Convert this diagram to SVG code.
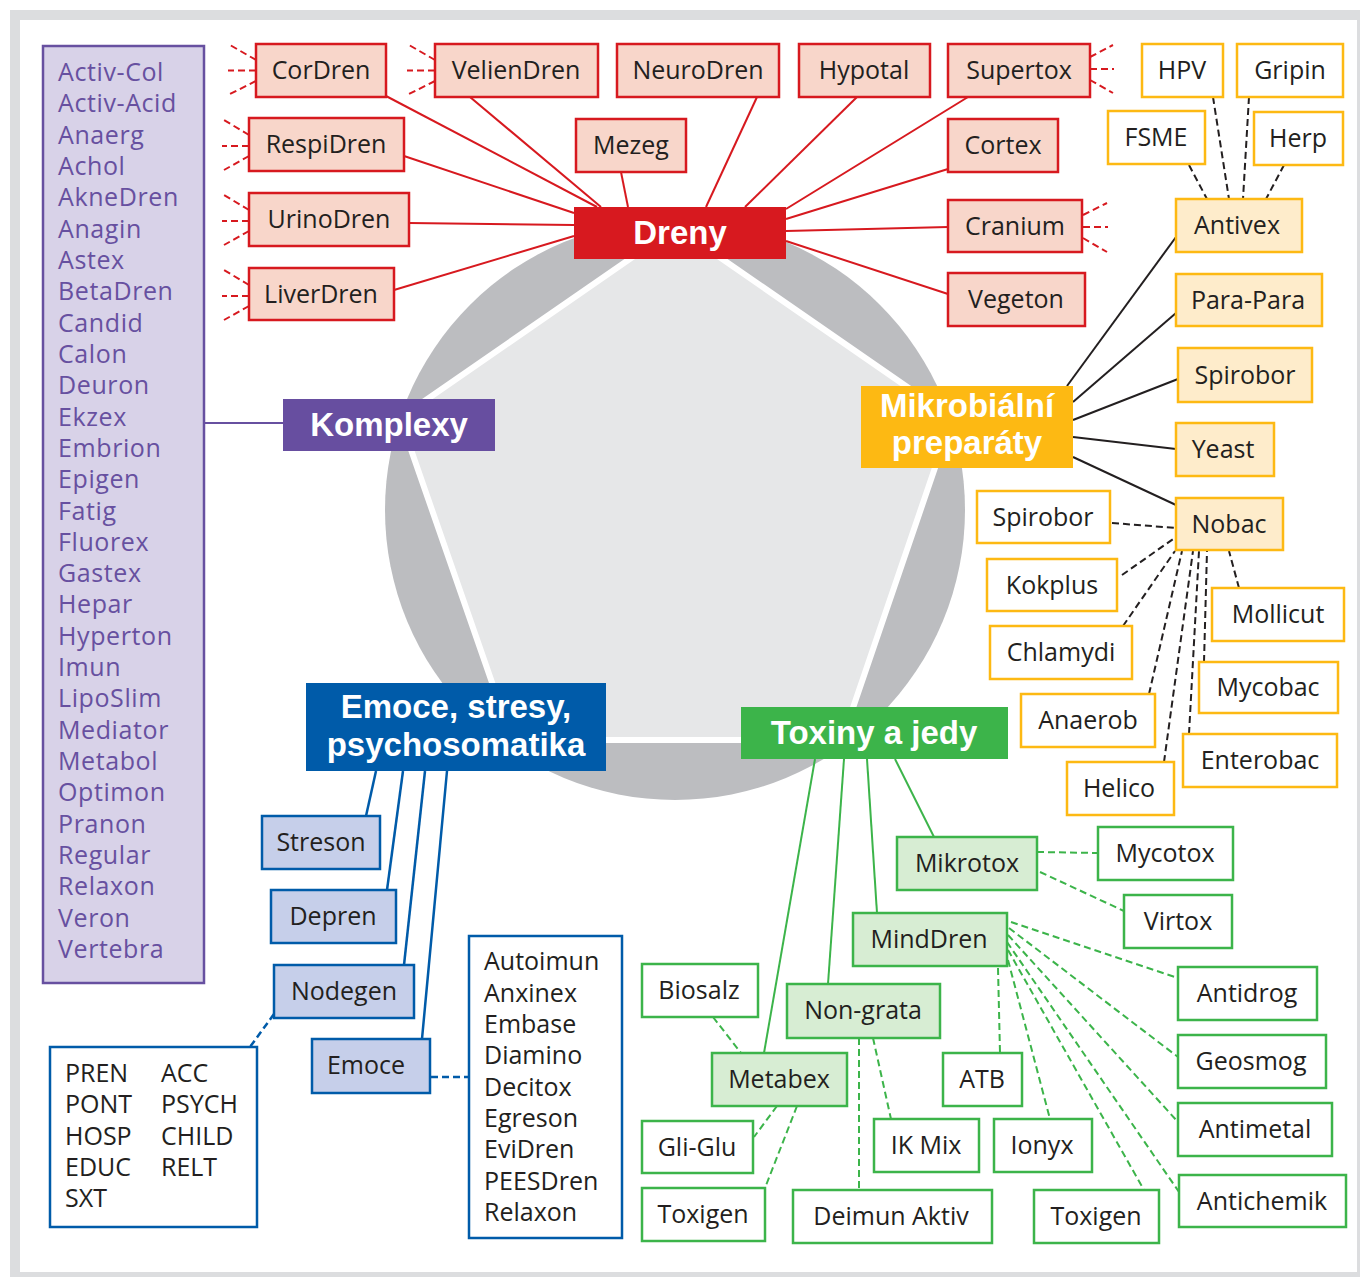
<svg xmlns="http://www.w3.org/2000/svg" width="1360" height="1277" viewBox="0 0 1360 1277">
<style>
text{font-family:"Open Sans","Noto Sans","Liberation Sans",sans-serif;}
.t{font-size:25px;fill:#231f20;text-anchor:middle;}
.lt{font-size:25px;fill:#231f20;}
.pt{font-size:25px;fill:#6750a0;letter-spacing:0.6px;}
.cat{font-family:"Liberation Sans",Arial,sans-serif;font-size:33px;font-weight:bold;fill:#fff;text-anchor:middle;}
.rn{fill:#f8d6ca;stroke:#d7191f;stroke-width:2.5;}
.yw{fill:#fff;stroke:#fdb913;stroke-width:2.5;}
.yp{fill:#feeccb;stroke:#fdb913;stroke-width:2.5;}
.gw{fill:#fff;stroke:#3cb44a;stroke-width:2.5;}
.gp{fill:#d7edd3;stroke:#3cb44a;stroke-width:2.5;}
.bp{fill:#c6cfea;stroke:#005ba9;stroke-width:2.5;}
.bw{fill:#fff;stroke:#005ba9;stroke-width:2.5;}
.rl{stroke:#d7191f;stroke-width:2;fill:none;}
.rd{stroke:#d7191f;stroke-width:2;fill:none;stroke-dasharray:7 4;}
.kl{stroke:#231f20;stroke-width:2;fill:none;}
.kd{stroke:#231f20;stroke-width:2;fill:none;stroke-dasharray:7 4;}
.gl{stroke:#3cb44a;stroke-width:2;fill:none;}
.gd{stroke:#3cb44a;stroke-width:2;fill:none;stroke-dasharray:7 4;}
.bl{stroke:#005ba9;stroke-width:2.5;fill:none;}
.bd{stroke:#005ba9;stroke-width:2.5;fill:none;stroke-dasharray:7 4;}
.pl{stroke:#6750a0;stroke-width:2;fill:none;}
</style>
<g id="frame">
<rect x="10" y="10" width="1350" height="1267" fill="#dcdddf"/>
<rect x="20" y="20" width="1337" height="1252" fill="#fff"/>
</g>
<g id="background">
<circle cx="675" cy="510" r="290" fill="#bcbdc0"/>
<polygon points="676,227 952,418 842,740 512,740 400,418" fill="#e6e7e8" stroke="#fff" stroke-width="6" stroke-linejoin="miter"/>
</g>
<g id="connectors">
<line class="rl" x1="386" y1="96" x2="597" y2="207"/>
<line class="rl" x1="470" y1="97" x2="601" y2="207"/>
<line class="rl" x1="404" y1="156" x2="574" y2="213"/>
<line class="rl" x1="409" y1="223" x2="574" y2="225"/>
<line class="rl" x1="394" y1="290" x2="574" y2="236"/>
<line class="rl" x1="621" y1="172" x2="628" y2="207"/>
<line class="rl" x1="757" y1="97" x2="706" y2="207"/>
<line class="rl" x1="857" y1="97" x2="745" y2="207"/>
<line class="rl" x1="968" y1="97" x2="786" y2="209"/>
<line class="rl" x1="948" y1="169" x2="786" y2="219"/>
<line class="rl" x1="948" y1="227" x2="786" y2="231"/>
<line class="rl" x1="948" y1="294" x2="786" y2="241"/>
<path class="rd" d="M256,60 L230,45 M256,70.5 L228,70.5 M256,81 L230,94"/>
<path class="rd" d="M435,60 L409,45 M435,70.5 L407,70.5 M435,81 L409,94"/>
<path class="rd" d="M249,135 L224,120 M249,146 L222,146 M249,156 L224,170"/>
<path class="rd" d="M249,210 L224,195 M249,221 L222,221 M249,231 L224,245"/>
<path class="rd" d="M249,285 L224,270 M249,296 L222,296 M249,306 L224,320"/>
<path class="rd" d="M1090,57 L1113,45 M1090,69 L1114,69 M1090,80 L1113,93"/>
<path class="rd" d="M1083,215 L1107,203 M1083,227 L1108,227 M1083,238 L1107,252"/>
<line class="pl" x1="204" y1="423" x2="283" y2="423"/>
<line class="kl" x1="1067" y1="386" x2="1176" y2="237"/>
<line class="kl" x1="1073" y1="402" x2="1176" y2="313"/>
<line class="kl" x1="1073" y1="420" x2="1178" y2="379"/>
<line class="kl" x1="1073" y1="437" x2="1176" y2="449"/>
<line class="kl" x1="1073" y1="457" x2="1176" y2="505"/>
<line class="kd" x1="1189" y1="165" x2="1207" y2="199"/>
<line class="kd" x1="1213" y1="97" x2="1229" y2="199"/>
<line class="kd" x1="1249" y1="97" x2="1243" y2="199"/>
<line class="kd" x1="1284" y1="165" x2="1266" y2="199"/>
<line class="kd" x1="1112" y1="523" x2="1176" y2="528"/>
<line class="kd" x1="1122" y1="575" x2="1176" y2="537"/>
<line class="kd" x1="1123" y1="626" x2="1175" y2="551"/>
<line class="kd" x1="1149" y1="694" x2="1182" y2="551"/>
<line class="kd" x1="1164" y1="762" x2="1193" y2="551"/>
<line class="kd" x1="1189" y1="734" x2="1199" y2="551"/>
<line class="kd" x1="1204" y1="662" x2="1207" y2="551"/>
<line class="kd" x1="1239" y1="588" x2="1229" y2="551"/>
<line class="bl" x1="376" y1="771" x2="366" y2="816"/>
<line class="bl" x1="403" y1="771" x2="387" y2="890"/>
<line class="bl" x1="425" y1="771" x2="404" y2="965"/>
<line class="bl" x1="447" y1="771" x2="422" y2="1039"/>
<line class="bd" x1="274" y1="1014" x2="250" y2="1047"/>
<line class="bd" x1="431" y1="1077" x2="469" y2="1077"/>
<line class="gl" x1="815" y1="759" x2="764" y2="1053"/>
<line class="gl" x1="844" y1="759" x2="828" y2="984"/>
<line class="gl" x1="867" y1="759" x2="877" y2="913"/>
<line class="gl" x1="895" y1="759" x2="934" y2="837"/>
<line class="gd" x1="1037" y1="852" x2="1098" y2="853"/>
<line class="gd" x1="1040" y1="872" x2="1124" y2="911"/>
<line class="gd" x1="1011" y1="922" x2="1178" y2="978"/>
<line class="gd" x1="1009" y1="928" x2="1178" y2="1057"/>
<line class="gd" x1="1008" y1="935" x2="1178" y2="1122"/>
<line class="gd" x1="1007" y1="942" x2="1179" y2="1192"/>
<line class="gd" x1="1008" y1="950" x2="1144" y2="1190"/>
<line class="gd" x1="1008" y1="960" x2="1050" y2="1119"/>
<line class="gd" x1="998" y1="968" x2="1000" y2="1053"/>
<line class="gd" x1="713" y1="1017" x2="741" y2="1053"/>
<line class="gd" x1="859" y1="1038" x2="859" y2="1190"/>
<line class="gd" x1="873" y1="1038" x2="891" y2="1119"/>
<line class="gd" x1="777" y1="1106" x2="754" y2="1137"/>
<line class="gd" x1="797" y1="1106" x2="765" y2="1188"/>
</g>
<g id="n-dreny"><rect x="574" y="207" width="212" height="52" fill="#d7191f"/><text class="cat" x="680" y="244">Dreny</text></g>
<g id="n-komplexy"><rect x="283" y="399" width="212" height="52" fill="#674ea0"/><text class="cat" x="389" y="436">Komplexy</text></g>
<g id="n-mikrobialni"><rect x="861" y="386" width="212" height="82" fill="#fdb913"/><text class="cat" x="967" y="417">Mikrobiální</text><text class="cat" x="967" y="454">preparáty</text></g>
<g id="n-emoce-cat"><rect x="306" y="683" width="300" height="88" fill="#005ba9"/><text class="cat" x="456" y="718">Emoce, stresy,</text><text class="cat" x="456" y="756">psychosomatika</text></g>
<g id="n-toxiny"><rect x="741" y="707" width="267" height="52" fill="#3cb44a"/><text class="cat" x="874" y="744">Toxiny a jedy</text></g>
<g id="n-cordren"><rect class="rn" x="256" y="44" width="130" height="53"/><text class="t" x="321" y="79">CorDren</text></g>
<g id="n-veliendren"><rect class="rn" x="435" y="44" width="163" height="53"/><text class="t" x="516" y="79">VelienDren</text></g>
<g id="n-neurodren"><rect class="rn" x="617" y="44" width="162" height="53"/><text class="t" x="698" y="79">NeuroDren</text></g>
<g id="n-hypotal"><rect class="rn" x="799" y="44" width="131" height="53"/><text class="t" x="864" y="79">Hypotal</text></g>
<g id="n-supertox"><rect class="rn" x="948" y="44" width="142" height="53"/><text class="t" x="1019" y="79">Supertox</text></g>
<g id="n-mezeg"><rect class="rn" x="576" y="119" width="110" height="53"/><text class="t" x="631" y="154">Mezeg</text></g>
<g id="n-respidren"><rect class="rn" x="249" y="118" width="155" height="53"/><text class="t" x="326" y="153">RespiDren</text></g>
<g id="n-urinodren"><rect class="rn" x="249" y="193" width="160" height="53"/><text class="t" x="329" y="228">UrinoDren</text></g>
<g id="n-liverdren"><rect class="rn" x="249" y="268" width="145" height="52"/><text class="t" x="321" y="303">LiverDren</text></g>
<g id="n-cortex"><rect class="rn" x="948" y="119" width="110" height="53"/><text class="t" x="1003" y="154">Cortex</text></g>
<g id="n-cranium"><rect class="rn" x="948" y="200" width="134" height="52"/><text class="t" x="1015" y="235">Cranium</text></g>
<g id="n-vegeton"><rect class="rn" x="948" y="273" width="137" height="53"/><text class="t" x="1016" y="308">Vegeton</text></g>
<g id="n-hpv"><rect class="yw" x="1142" y="44" width="81" height="53"/><text class="t" x="1182" y="79">HPV</text></g>
<g id="n-gripin"><rect class="yw" x="1237" y="44" width="106" height="53"/><text class="t" x="1290" y="79">Gripin</text></g>
<g id="n-fsme"><rect class="yw" x="1108" y="111" width="97" height="53"/><text class="t" x="1156" y="146">FSME</text></g>
<g id="n-herp"><rect class="yw" x="1254" y="112" width="89" height="53"/><text class="t" x="1298" y="147">Herp</text></g>
<g id="n-antivex"><rect class="yp" x="1176" y="199" width="126" height="53"/><text class="t" x="1237" y="234">Antivex</text></g>
<g id="n-parapara"><rect class="yp" x="1176" y="274" width="146" height="52"/><text class="t" x="1248" y="309">Para-Para</text></g>
<g id="n-spirobor1"><rect class="yp" x="1178" y="348" width="134" height="54"/><text class="t" x="1245" y="384">Spirobor</text></g>
<g id="n-yeast"><rect class="yp" x="1176" y="423" width="98" height="53"/><text class="t" x="1223" y="458">Yeast</text></g>
<g id="n-nobac"><rect class="yp" x="1176" y="498" width="107" height="52"/><text class="t" x="1229" y="533">Nobac</text></g>
<g id="n-spirobor2"><rect class="yw" x="977" y="491" width="133" height="52"/><text class="t" x="1043" y="526">Spirobor</text></g>
<g id="n-kokplus"><rect class="yw" x="987" y="559" width="130" height="52"/><text class="t" x="1052" y="594">Kokplus</text></g>
<g id="n-chlamydi"><rect class="yw" x="990" y="626" width="142" height="53"/><text class="t" x="1061" y="661">Chlamydi</text></g>
<g id="n-anaerob"><rect class="yw" x="1021" y="694" width="134" height="53"/><text class="t" x="1088" y="729">Anaerob</text></g>
<g id="n-helico"><rect class="yw" x="1067" y="762" width="107" height="53"/><text class="t" x="1119" y="797">Helico</text></g>
<g id="n-mollicut"><rect class="yw" x="1212" y="588" width="132" height="53"/><text class="t" x="1278" y="623">Mollicut</text></g>
<g id="n-mycobac"><rect class="yw" x="1199" y="662" width="139" height="51"/><text class="t" x="1268" y="696">Mycobac</text></g>
<g id="n-enterobac"><rect class="yw" x="1183" y="734" width="154" height="53"/><text class="t" x="1260" y="769">Enterobac</text></g>
<g id="n-komplexy-list"><rect x="43" y="46" width="161" height="937" fill="#d8d2e8" stroke="#6750a0" stroke-width="2.5"/>
<text class="pt" x="58" y="81">Activ-Col</text>
<text class="pt" x="58" y="112.3">Activ-Acid</text>
<text class="pt" x="58" y="143.6">Anaerg</text>
<text class="pt" x="58" y="175">Achol</text>
<text class="pt" x="58" y="206.3">AkneDren</text>
<text class="pt" x="58" y="237.6">Anagin</text>
<text class="pt" x="58" y="268.9">Astex</text>
<text class="pt" x="58" y="300.2">BetaDren</text>
<text class="pt" x="58" y="331.6">Candid</text>
<text class="pt" x="58" y="362.9">Calon</text>
<text class="pt" x="58" y="394.2">Deuron</text>
<text class="pt" x="58" y="425.5">Ekzex</text>
<text class="pt" x="58" y="456.8">Embrion</text>
<text class="pt" x="58" y="488.2">Epigen</text>
<text class="pt" x="58" y="519.5">Fatig</text>
<text class="pt" x="58" y="550.8">Fluorex</text>
<text class="pt" x="58" y="582.1">Gastex</text>
<text class="pt" x="58" y="613.4">Hepar</text>
<text class="pt" x="58" y="644.8">Hyperton</text>
<text class="pt" x="58" y="676.1">Imun</text>
<text class="pt" x="58" y="707.4">LipoSlim</text>
<text class="pt" x="58" y="738.7">Mediator</text>
<text class="pt" x="58" y="770">Metabol</text>
<text class="pt" x="58" y="801.4">Optimon</text>
<text class="pt" x="58" y="832.7">Pranon</text>
<text class="pt" x="58" y="864">Regular</text>
<text class="pt" x="58" y="895.3">Relaxon</text>
<text class="pt" x="58" y="926.6">Veron</text>
<text class="pt" x="58" y="958">Vertebra</text>
</g>
<g id="n-streson"><rect class="bp" x="262" y="816" width="118" height="53"/><text class="t" x="321" y="851">Streson</text></g>
<g id="n-depren"><rect class="bp" x="271" y="890" width="125" height="53"/><text class="t" x="333" y="925">Depren</text></g>
<g id="n-nodegen"><rect class="bp" x="274" y="965" width="140" height="53"/><text class="t" x="344" y="1000">Nodegen</text></g>
<g id="n-emoce"><rect class="bp" x="312" y="1039" width="118" height="54"/><text class="t" x="366" y="1074">Emoce</text></g>
<g id="n-pren"><rect class="bw" x="50" y="1047" width="207" height="180"/>
<text class="lt" x="65" y="1082">PREN</text><text class="lt" x="161" y="1082">ACC</text>
<text class="lt" x="65" y="1113">PONT</text><text class="lt" x="161" y="1113">PSYCH</text>
<text class="lt" x="65" y="1145">HOSP</text><text class="lt" x="161" y="1145">CHILD</text>
<text class="lt" x="65" y="1176">EDUC</text><text class="lt" x="161" y="1176">RELT</text>
<text class="lt" x="65" y="1207">SXT</text>
</g>
<g id="n-autoimun"><rect class="bw" x="469" y="936" width="153" height="302"/>
<text class="lt" x="484" y="970">Autoimun</text>
<text class="lt" x="484" y="1001.5">Anxinex</text>
<text class="lt" x="484" y="1032.8">Embase</text>
<text class="lt" x="484" y="1064">Diamino</text>
<text class="lt" x="484" y="1095.5">Decitox</text>
<text class="lt" x="484" y="1126.8">Egreson</text>
<text class="lt" x="484" y="1158">EviDren</text>
<text class="lt" x="484" y="1189.5">PEESDren</text>
<text class="lt" x="484" y="1220.8">Relaxon</text>
</g>
<g id="n-mikrotox"><rect class="gp" x="897" y="837" width="140" height="53"/><text class="t" x="967" y="872">Mikrotox</text></g>
<g id="n-mycotox"><rect class="gw" x="1098" y="827" width="135" height="53"/><text class="t" x="1165" y="862">Mycotox</text></g>
<g id="n-virtox"><rect class="gw" x="1124" y="895" width="108" height="53"/><text class="t" x="1178" y="930">Virtox</text></g>
<g id="n-minddren"><rect class="gp" x="853" y="913" width="154" height="53"/><text class="t" x="929" y="948">MindDren</text></g>
<g id="n-biosalz"><rect class="gw" x="642" y="964" width="116" height="53"/><text class="t" x="699" y="999">Biosalz</text></g>
<g id="n-nongrata"><rect class="gp" x="787" y="984" width="153" height="54"/><text class="t" x="863" y="1019">Non-grata</text></g>
<g id="n-metabex"><rect class="gp" x="712" y="1053" width="135" height="53"/><text class="t" x="779" y="1088">Metabex</text></g>
<g id="n-atb"><rect class="gw" x="943" y="1053" width="79" height="53"/><text class="t" x="982" y="1088">ATB</text></g>
<g id="n-antidrog"><rect class="gw" x="1178" y="967" width="139" height="53"/><text class="t" x="1247" y="1002">Antidrog</text></g>
<g id="n-geosmog"><rect class="gw" x="1178" y="1035" width="148" height="53"/><text class="t" x="1251" y="1070">Geosmog</text></g>
<g id="n-antimetal"><rect class="gw" x="1178" y="1103" width="154" height="53"/><text class="t" x="1255" y="1138">Antimetal</text></g>
<g id="n-antichemik"><rect class="gw" x="1179" y="1175" width="167" height="52"/><text class="t" x="1262" y="1210">Antichemik</text></g>
<g id="n-gliglu"><rect class="gw" x="642" y="1121" width="111" height="52"/><text class="t" x="697" y="1156">Gli-Glu</text></g>
<g id="n-toxigen1"><rect class="gw" x="642" y="1188" width="123" height="53"/><text class="t" x="703" y="1223">Toxigen</text></g>
<g id="n-ikmix"><rect class="gw" x="874" y="1119" width="105" height="53"/><text class="t" x="926" y="1154">IK Mix</text></g>
<g id="n-ionyx"><rect class="gw" x="994" y="1119" width="98" height="53"/><text class="t" x="1042" y="1154">Ionyx</text></g>
<g id="n-deimun"><rect class="gw" x="793" y="1190" width="199" height="53"/><text class="t" x="891" y="1225">Deimun Aktiv</text></g>
<g id="n-toxigen2"><rect class="gw" x="1034" y="1190" width="125" height="53"/><text class="t" x="1096" y="1225">Toxigen</text></g>
</svg>
